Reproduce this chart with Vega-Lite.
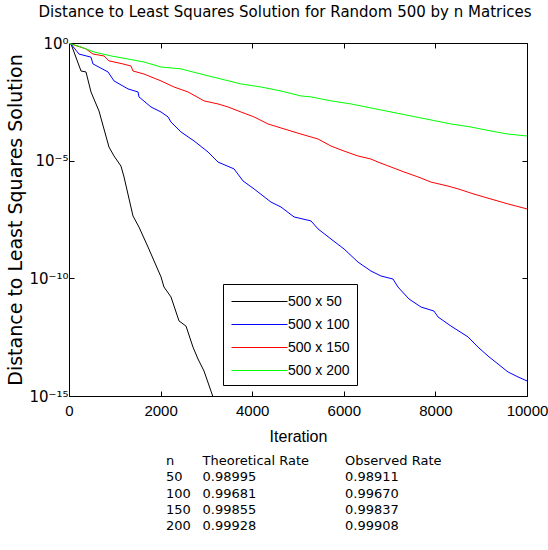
{
  "$schema": "https://vega.github.io/schema/vega-lite/v6.json",
  "background": "white",
  "padding": {"left": 6, "top": 4, "right": 0, "bottom": 0},
  "config": {
    "font": "Liberation Sans",
    "view": {"stroke": "black", "strokeWidth": 1},
    "axis": {"grid": false, "domain": false, "tickColor": "black", "labelColor": "black", "titleColor": "black", "titleFontWeight": "normal", "labelFlush": false}
  },
  "title": {"text": "Distance to Least Squares Solution for Random 500 by n Matrices", "font": "DejaVu Sans", "fontSize": 15, "fontWeight": "normal", "color": "black", "anchor": "start", "offset": 16, "dx": 32},
  "spacing": 10,
  "vconcat": [
    {
      "width": 458,
      "height": 353,
      "data": {"values": [
        {"series": "500 x 50", "iteration": 0, "distance": 1},
        {"series": "500 x 50", "iteration": 44, "distance": 0.912},
        {"series": "500 x 50", "iteration": 262, "distance": 6.46e-2},
        {"series": "500 x 50", "iteration": 371, "distance": 5.89e-2},
        {"series": "500 x 50", "iteration": 480, "distance": 8.32e-3},
        {"series": "500 x 50", "iteration": 655, "distance": 1.29e-3},
        {"series": "500 x 50", "iteration": 873, "distance": 3.80e-5},
        {"series": "500 x 50", "iteration": 983, "distance": 1.58e-5},
        {"series": "500 x 50", "iteration": 1135, "distance": 5.89e-6},
        {"series": "500 x 50", "iteration": 1201, "distance": 2.04e-6},
        {"series": "500 x 50", "iteration": 1397, "distance": 4.47e-8},
        {"series": "500 x 50", "iteration": 1528, "distance": 1.51e-8},
        {"series": "500 x 50", "iteration": 1725, "distance": 2.14e-9},
        {"series": "500 x 50", "iteration": 2009, "distance": 1.15e-10},
        {"series": "500 x 50", "iteration": 2074, "distance": 4.27e-11},
        {"series": "500 x 50", "iteration": 2227, "distance": 1.62e-11},
        {"series": "500 x 50", "iteration": 2402, "distance": 1.55e-12},
        {"series": "500 x 50", "iteration": 2555, "distance": 9.33e-13},
        {"series": "500 x 50", "iteration": 2707, "distance": 1.20e-13},
        {"series": "500 x 50", "iteration": 2817, "distance": 3.72e-14},
        {"series": "500 x 50", "iteration": 2948, "distance": 1.15e-14},
        {"series": "500 x 50", "iteration": 3100, "distance": 1.62e-15},
        {"series": "500 x 50", "iteration": 3150, "distance": 8.5e-16},
        {"series": "500 x 100", "iteration": 0, "distance": 1},
        {"series": "500 x 100", "iteration": 44, "distance": 0.912},
        {"series": "500 x 100", "iteration": 218, "distance": 0.339},
        {"series": "500 x 100", "iteration": 480, "distance": 0.251},
        {"series": "500 x 100", "iteration": 524, "distance": 0.129},
        {"series": "500 x 100", "iteration": 852, "distance": 5.89e-2},
        {"series": "500 x 100", "iteration": 983, "distance": 2.45e-2},
        {"series": "500 x 100", "iteration": 1288, "distance": 1.12e-2},
        {"series": "500 x 100", "iteration": 1507, "distance": 8.32e-3},
        {"series": "500 x 100", "iteration": 1528, "distance": 5.13e-3},
        {"series": "500 x 100", "iteration": 1790, "distance": 1.91e-3},
        {"series": "500 x 100", "iteration": 2009, "distance": 1.17e-3},
        {"series": "500 x 100", "iteration": 2162, "distance": 7.24e-4},
        {"series": "500 x 100", "iteration": 2227, "distance": 4.37e-4},
        {"series": "500 x 100", "iteration": 2445, "distance": 1.66e-4},
        {"series": "500 x 100", "iteration": 2729, "distance": 6.92e-5},
        {"series": "500 x 100", "iteration": 3035, "distance": 2.34e-5},
        {"series": "500 x 100", "iteration": 3253, "distance": 8.71e-6},
        {"series": "500 x 100", "iteration": 3603, "distance": 4.47e-6},
        {"series": "500 x 100", "iteration": 3799, "distance": 1.38e-6},
        {"series": "500 x 100", "iteration": 4039, "distance": 6.31e-7},
        {"series": "500 x 100", "iteration": 4410, "distance": 1.74e-7},
        {"series": "500 x 100", "iteration": 4629, "distance": 1.07e-7},
        {"series": "500 x 100", "iteration": 4913, "distance": 4.07e-8},
        {"series": "500 x 100", "iteration": 5284, "distance": 2.75e-8},
        {"series": "500 x 100", "iteration": 5437, "distance": 1.26e-8},
        {"series": "500 x 100", "iteration": 5721, "distance": 4.68e-9},
        {"series": "500 x 100", "iteration": 6004, "distance": 1.78e-9},
        {"series": "500 x 100", "iteration": 6310, "distance": 4.90e-10},
        {"series": "500 x 100", "iteration": 6594, "distance": 2.04e-10},
        {"series": "500 x 100", "iteration": 6812, "distance": 1.26e-10},
        {"series": "500 x 100", "iteration": 7074, "distance": 9.33e-11},
        {"series": "500 x 100", "iteration": 7183, "distance": 4.27e-11},
        {"series": "500 x 100", "iteration": 7424, "distance": 1.32e-11},
        {"series": "500 x 100", "iteration": 7686, "distance": 6.03e-12},
        {"series": "500 x 100", "iteration": 7969, "distance": 4.07e-12},
        {"series": "500 x 100", "iteration": 8057, "distance": 2.29e-12},
        {"series": "500 x 100", "iteration": 8341, "distance": 9.33e-13},
        {"series": "500 x 100", "iteration": 8712, "distance": 3.24e-13},
        {"series": "500 x 100", "iteration": 8930, "distance": 1.20e-13},
        {"series": "500 x 100", "iteration": 9148, "distance": 5.01e-14},
        {"series": "500 x 100", "iteration": 9367, "distance": 2.29e-14},
        {"series": "500 x 100", "iteration": 9585, "distance": 1.05e-14},
        {"series": "500 x 100", "iteration": 9803, "distance": 6.46e-15},
        {"series": "500 x 100", "iteration": 10000, "distance": 4.37e-15},
        {"series": "500 x 150", "iteration": 0, "distance": 1},
        {"series": "500 x 150", "iteration": 44, "distance": 0.912},
        {"series": "500 x 150", "iteration": 371, "distance": 0.562},
        {"series": "500 x 150", "iteration": 524, "distance": 0.339},
        {"series": "500 x 150", "iteration": 764, "distance": 0.282},
        {"series": "500 x 150", "iteration": 873, "distance": 0.174},
        {"series": "500 x 150", "iteration": 1179, "distance": 0.129},
        {"series": "500 x 150", "iteration": 1354, "distance": 0.105},
        {"series": "500 x 150", "iteration": 1397, "distance": 6.46e-2},
        {"series": "500 x 150", "iteration": 1638, "distance": 4.79e-2},
        {"series": "500 x 150", "iteration": 2009, "distance": 2.45e-2},
        {"series": "500 x 150", "iteration": 2293, "distance": 1.35e-2},
        {"series": "500 x 150", "iteration": 2598, "distance": 8.32e-3},
        {"series": "500 x 150", "iteration": 2948, "distance": 3.47e-3},
        {"series": "500 x 150", "iteration": 3253, "distance": 2.57e-3},
        {"series": "500 x 150", "iteration": 3472, "distance": 1.91e-3},
        {"series": "500 x 150", "iteration": 3755, "distance": 1.17e-3},
        {"series": "500 x 150", "iteration": 4039, "distance": 7.24e-4},
        {"series": "500 x 150", "iteration": 4345, "distance": 3.63e-4},
        {"series": "500 x 150", "iteration": 4694, "distance": 2.24e-4},
        {"series": "500 x 150", "iteration": 5066, "distance": 1.35e-4},
        {"series": "500 x 150", "iteration": 5437, "distance": 8.32e-5},
        {"series": "500 x 150", "iteration": 5721, "distance": 4.17e-5},
        {"series": "500 x 150", "iteration": 6004, "distance": 2.57e-5},
        {"series": "500 x 150", "iteration": 6310, "distance": 1.58e-5},
        {"series": "500 x 150", "iteration": 6594, "distance": 1.17e-5},
        {"series": "500 x 150", "iteration": 6747, "distance": 8.71e-6},
        {"series": "500 x 150", "iteration": 7031, "distance": 5.37e-6},
        {"series": "500 x 150", "iteration": 7314, "distance": 3.31e-6},
        {"series": "500 x 150", "iteration": 7620, "distance": 2.04e-6},
        {"series": "500 x 150", "iteration": 7904, "distance": 1.23e-6},
        {"series": "500 x 150", "iteration": 8275, "distance": 8.32e-7},
        {"series": "500 x 150", "iteration": 8494, "distance": 6.31e-7},
        {"series": "500 x 150", "iteration": 8843, "distance": 3.80e-7},
        {"series": "500 x 150", "iteration": 9214, "distance": 2.34e-7},
        {"series": "500 x 150", "iteration": 9585, "distance": 1.45e-7},
        {"series": "500 x 150", "iteration": 10000, "distance": 8.91e-8},
        {"series": "500 x 200", "iteration": 0, "distance": 1},
        {"series": "500 x 200", "iteration": 44, "distance": 0.912},
        {"series": "500 x 200", "iteration": 262, "distance": 0.676},
        {"series": "500 x 200", "iteration": 546, "distance": 0.417},
        {"series": "500 x 200", "iteration": 917, "distance": 0.282},
        {"series": "500 x 200", "iteration": 1288, "distance": 0.209},
        {"series": "500 x 200", "iteration": 1638, "distance": 0.155},
        {"series": "500 x 200", "iteration": 2009, "distance": 9.55e-2},
        {"series": "500 x 200", "iteration": 2445, "distance": 7.94e-2},
        {"series": "500 x 200", "iteration": 2882, "distance": 4.79e-2},
        {"series": "500 x 200", "iteration": 3319, "distance": 2.95e-2},
        {"series": "500 x 200", "iteration": 3755, "distance": 1.82e-2},
        {"series": "500 x 200", "iteration": 4192, "distance": 1.35e-2},
        {"series": "500 x 200", "iteration": 4629, "distance": 9.12e-3},
        {"series": "500 x 200", "iteration": 5066, "distance": 5.62e-3},
        {"series": "500 x 200", "iteration": 5284, "distance": 5.13e-3},
        {"series": "500 x 200", "iteration": 5721, "distance": 3.47e-3},
        {"series": "500 x 200", "iteration": 6157, "distance": 2.57e-3},
        {"series": "500 x 200", "iteration": 6594, "distance": 1.74e-3},
        {"series": "500 x 200", "iteration": 7031, "distance": 1.17e-3},
        {"series": "500 x 200", "iteration": 7467, "distance": 7.94e-4},
        {"series": "500 x 200", "iteration": 7904, "distance": 5.37e-4},
        {"series": "500 x 200", "iteration": 8341, "distance": 3.63e-4},
        {"series": "500 x 200", "iteration": 8777, "distance": 2.69e-4},
        {"series": "500 x 200", "iteration": 9214, "distance": 1.82e-4},
        {"series": "500 x 200", "iteration": 9585, "distance": 1.35e-4},
        {"series": "500 x 200", "iteration": 10000, "distance": 1.12e-4}
      ]},
      "layer": [
        {
          "mark": {"type": "line", "strokeWidth": 1, "clip": true},
          "encoding": {
            "x": {
              "field": "iteration", "type": "quantitative",
              "scale": {"domain": [0, 10000], "nice": false},
              "axis": {"orient": "bottom", "values": [0, 2000, 4000, 6000, 8000, 10000], "format": "d", "tickSize": -5, "labelFontSize": 15, "labelPadding": 12, "title": "Iteration", "titleFontSize": 16, "titlePadding": 10}
            },
            "y": {
              "field": "distance", "type": "quantitative",
              "scale": {"type": "log", "domain": [1e-15, 1], "nice": false},
              "axis": {"orient": "left", "values": [1, 1e-5, 1e-10, 1e-15], "labelExpr": "datum.value > 0.5 ? '10⁰' : datum.value > 1e-6 ? '10⁻⁵' : datum.value > 1e-11 ? '10⁻¹⁰' : '10⁻¹⁵'", "tickSize": -5, "labelFont": "DejaVu Sans", "labelFontSize": 15, "labelPadding": 6, "title": "Distance to Least Squares Solution", "titleFont": "DejaVu Sans", "titleFontSize": 19, "titlePadding": 3}
            },
            "color": {
              "field": "series", "type": "nominal",
              "scale": {"domain": ["500 x 50", "500 x 100", "500 x 150", "500 x 200"], "range": ["#000000", "#0000ff", "#ff0000", "#00ff00"]},
              "legend": {"orient": "none", "legendX": 154, "legendY": 241, "title": null, "strokeColor": "black", "fillColor": "white", "padding": 7, "symbolType": "M-2.8,0H2.8", "symbolSize": 400, "symbolStrokeWidth": 1, "symbolOffset": 19, "labelOffset": 18, "rowPadding": 5, "labelFontSize": 14, "labelColor": "black", "labelFont": "Liberation Sans", "labelExpr": "datum.label + '\u2003\u2003'"}
            }
          }
        },
        {
          "mark": {"type": "line", "strokeOpacity": 0},
          "encoding": {
            "x": {"field": "iteration", "type": "quantitative", "axis": {"orient": "top", "values": [0, 2000, 4000, 6000, 8000, 10000], "tickSize": -5, "labels": false, "title": null}},
            "y": {"field": "distance", "type": "quantitative", "axis": {"orient": "right", "values": [1, 1e-5, 1e-10, 1e-15], "tickSize": -5, "labels": false, "title": null}},
            "detail": {"field": "series"}
          }
        }
      ],
      "resolve": {"axis": {"x": "independent", "y": "independent"}}
    },
    {
      "width": 458,
      "height": 65,
      "view": {"stroke": null},
      "data": {"values": [
        {"line": "header", "n": "n", "theoretical": "Theoretical Rate", "observed": "Observed Rate"},
        {"line": "50", "n": "50", "theoretical": "0.98995", "observed": "0.98911"},
        {"line": "100", "n": "100", "theoretical": "0.99681", "observed": "0.99670"},
        {"line": "150", "n": "150", "theoretical": "0.99855", "observed": "0.99837"},
        {"line": "200", "n": "200", "theoretical": "0.99928", "observed": "0.99908"}
      ]},
      "encoding": {
        "y": {"field": "line", "type": "ordinal", "scale": {"type": "point", "domain": ["header", "50", "100", "150", "200"], "padding": 0}, "axis": null}
      },
      "layer": [
        {
          "mark": {"type": "text", "align": "left", "baseline": "middle", "font": "DejaVu Sans", "fontSize": 13, "color": "black"},
          "encoding": {
            "x": {"datum": "n", "type": "nominal", "scale": {"type": "point", "domain": ["n", "theoretical", "observed"], "range": [97, 276], "padding": 0}, "axis": null},
            "text": {"field": "n"}
          }
        },
        {
          "mark": {"type": "text", "align": "left", "baseline": "middle", "font": "DejaVu Sans", "fontSize": 13, "color": "black", "dx": -53},
          "encoding": {
            "x": {"datum": "theoretical", "type": "nominal"},
            "text": {"field": "theoretical"}
          }
        },
        {
          "mark": {"type": "text", "align": "left", "baseline": "middle", "font": "DejaVu Sans", "fontSize": 13, "color": "black"},
          "encoding": {
            "x": {"datum": "observed", "type": "nominal"},
            "text": {"field": "observed"}
          }
        }
      ]
    }
  ]
}
